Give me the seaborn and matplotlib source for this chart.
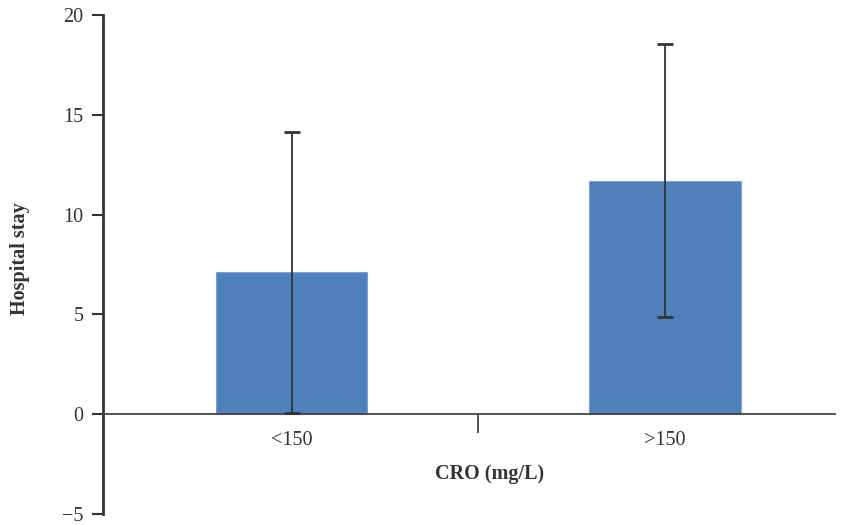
import matplotlib
matplotlib.use("Agg")
import matplotlib.pyplot as plt
import seaborn as sns
import pandas as pd

categories = ["<150", ">150"]
means = [7.1, 11.7]
errors = [7.05, 6.85]
y_ticks = [-5, 0, 5, 10, 15, 20]

sns.set_theme(style="white")
plt.rcParams['font.family'] = ['Liberation Serif', 'DejaVu Serif']

df = pd.DataFrame({"cat": categories, "val": means})

top_px, bot_px, left_px, right_px = 14.7, 514.3, 103, 835
fig = plt.figure(figsize=(8.47, 5.25), dpi=100)
ax = fig.add_axes([left_px/847, 1 - bot_px/525, (right_px - left_px)/847, (bot_px - top_px)/525])

sns.barplot(data=df, x="cat", y="val", color="#4F81BD", saturation=1, width=0.405, ax=ax, errorbar=None)
for p in ax.patches:
    p.set_edgecolor("#7FA3D3")
    p.set_linewidth(0.8)

ax.errorbar(x=list(range(len(categories))), y=means, yerr=errors, fmt="none",
            ecolor="#333333", elinewidth=1.3, capsize=6, capthick=2, zorder=5)

ax.set_ylim(-5, 20)
ax.set_xlim(-0.505, 1.455)
ax.set_yticks(y_ticks)
ax.set_yticklabels([str(t).replace("-", "\u2212") for t in y_ticks], fontsize=14.5, color="#333333")

ax.spines['top'].set_visible(False)
ax.spines['right'].set_visible(False)
ax.spines['left'].set_color("#333333")
ax.spines['left'].set_linewidth(2)
ax.spines['bottom'].set_position(('data', 0))
ax.spines['bottom'].set_color("#444444")
ax.spines['bottom'].set_linewidth(1.3)

ax.set_xticks([0.5])
ax.set_xticklabels([""])
ax.set_xticks([0, 1], minor=True)
ax.set_xticklabels(categories, minor=True, fontsize=14.5, color="#333333")
ax.tick_params(axis='x', which='major', bottom=True, direction='out', length=14, width=1.3, color="#444444")
ax.tick_params(axis='x', which='minor', bottom=True, length=0, pad=12)
ax.tick_params(axis='y', direction='out', length=8, width=1.5, color="#333333", left=True, pad=6)

ax.set_xlabel("CRO (mg/L)", fontsize=14.5, fontweight="bold", color="#333333")
ax.xaxis.set_label_coords((490 - left_px) / (right_px - left_px), (bot_px - 464) / (bot_px - top_px))
ax.set_ylabel("Hospital stay", fontsize=14.5, fontweight="bold", color="#333333")
ax.yaxis.set_label_coords(-(left_px - 30) / (right_px - left_px), (bot_px - 259) / (bot_px - top_px))

fig.savefig("out.png", dpi=100)
